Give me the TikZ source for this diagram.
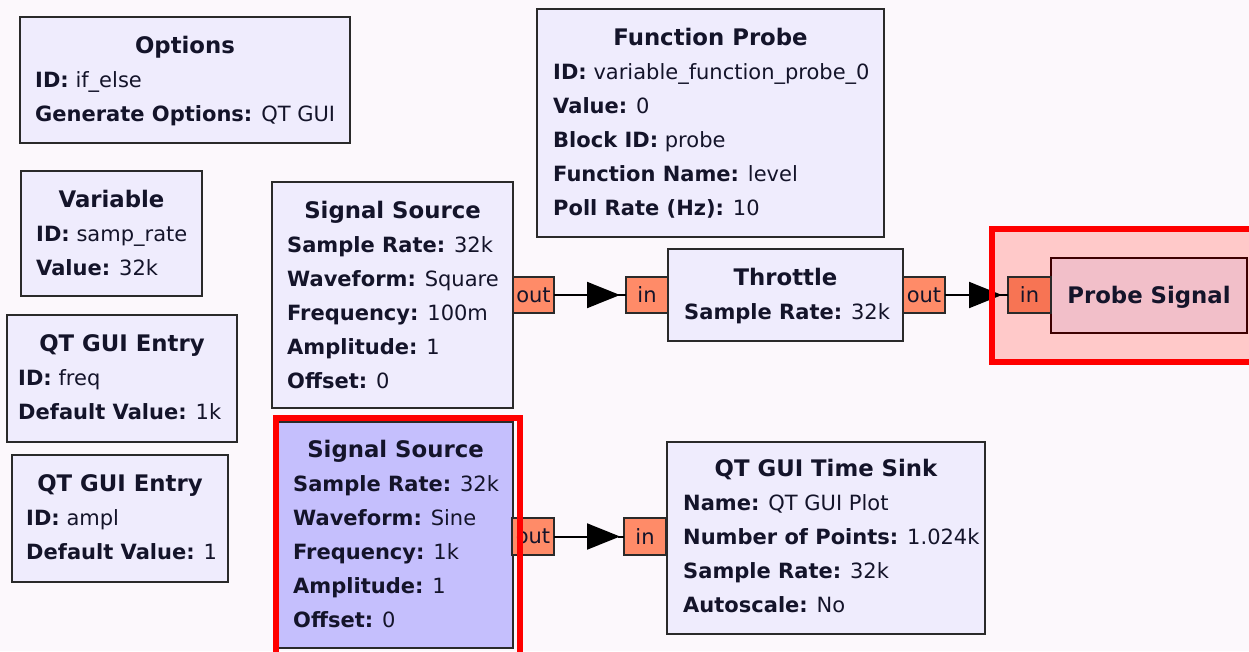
\documentclass[tikz,border=0pt]{standalone}
\usepackage{fontspec}
\setmainfont{DejaVu Sans}
\usetikzlibrary{arrows.meta}
\definecolor{bgc}{HTML}{FCF8FC}
\definecolor{blkc}{HTML}{EFECFD}
\definecolor{selc}{HTML}{C5BFFD}
\definecolor{portc}{HTML}{FF8B68}
\definecolor{portd}{HTML}{F77454}
\definecolor{probec}{HTML}{F2BFC9}
\definecolor{regc}{HTML}{FFC9C9}
\definecolor{bordc}{HTML}{2A2A2A}
\definecolor{txtc}{HTML}{14142A}
\begin{document}
\begin{tikzpicture}[x=1pt,y=-1pt,
  font=\fontsize{21}{25}\selectfont, text=txtc,
  blk/.style={draw=bordc, line width=2pt, fill=blkc, rectangle, inner sep=0pt,
    outer sep=0pt, anchor=north west},
  ttl/.style={font=\fontsize{22.8}{27}\selectfont\bfseries, anchor=base, inner sep=0pt},
  prm/.style={anchor=base west, inner sep=0pt},
  port/.style={draw=bordc, line width=1.6pt, fill=portc, inner sep=0pt, outer sep=0pt,
    minimum width=42pt, minimum height=36pt, anchor=north west},
  conn/.style={line width=2pt, draw=black},
  tip/.style={conn, -{Triangle[length=33pt,width=26pt]}},
  hl/.style={draw=red, line width=6pt}]
\useasboundingbox (0,0) rectangle (1249,651);
\fill[bgc] (0,0) rectangle (1249,651);
% highlighted area around the probe sink
\fill[regc] (989,226) rectangle (1265,365);

% Options
\node[blk, minimum width=330pt, minimum height=126pt] (opt) at (20,17) {};
\node[ttl] (optT) at (185,53) {Options};
\node[prm] (opt1) at (35,87) {\textbf{ID:} if\_else};
\node[prm] (opt2) at (35,121) {\textbf{Generate Options:} QT GUI};

% Variable
\node[blk, minimum width=181pt, minimum height=125pt] (var) at (21,171) {};
\node[ttl] (varT) at (111.5,207) {Variable};
\node[prm] (var1) at (36,241) {\textbf{ID:} samp\_rate};
\node[prm] (var2) at (36,275) {\textbf{Value:} 32k};

% QT GUI Entry (freq)
\node[blk, minimum width=230pt, minimum height=127pt] (ef) at (7,315) {};
\node[ttl] (efT) at (122,351) {QT GUI Entry};
\node[prm] (ef1) at (18,385) {\textbf{ID:} freq};
\node[prm] (ef2) at (18,419) {\textbf{Default Value:} 1k};

% QT GUI Entry (ampl)
\node[blk, minimum width=216pt, minimum height=127pt] (ea) at (12,455) {};
\node[ttl] (eaT) at (120,491) {QT GUI Entry};
\node[prm] (ea1) at (26,525) {\textbf{ID:} ampl};
\node[prm] (ea2) at (26,559) {\textbf{Default Value:} 1};

% Function Probe
\node[blk, minimum width=347pt, minimum height=228pt] (fp) at (537,9) {};
\node[ttl] (fpT) at (710.5,45) {Function Probe};
\node[prm] (fp1) at (553,79) {\textbf{ID:} variable\_function\_probe\_0};
\node[prm] (fp2) at (553,113) {\textbf{Value:} 0};
\node[prm] (fp3) at (553,147) {\textbf{Block ID:} probe};
\node[prm] (fp4) at (553,181) {\textbf{Function Name:} level};
\node[prm] (fp5) at (553,215) {\textbf{Poll Rate (Hz):} 10};

% Signal Source (square)
\node[blk, minimum width=241pt, minimum height=226pt] (ssa) at (272,182) {};
\node[ttl] (ssaT) at (392.5,218) {Signal Source};
\node[prm] (ssa1) at (287,252) {\textbf{Sample Rate:} 32k};
\node[prm] (ssa2) at (287,286) {\textbf{Waveform:} Square};
\node[prm] (ssa3) at (287,320) {\textbf{Frequency:} 100m};
\node[prm] (ssa4) at (287,354) {\textbf{Amplitude:} 1};
\node[prm] (ssa5) at (287,388) {\textbf{Offset:} 0};

% Signal Source (sine, selected)
\node[blk, fill=selc, minimum width=235pt, minimum height=226pt] (ssb) at (278,422) {};
\node[ttl] (ssbT) at (395.5,457) {Signal Source};
\node[prm] (ssb1) at (293,491) {\textbf{Sample Rate:} 32k};
\node[prm] (ssb2) at (293,525) {\textbf{Waveform:} Sine};
\node[prm] (ssb3) at (293,559) {\textbf{Frequency:} 1k};
\node[prm] (ssb4) at (293,593) {\textbf{Amplitude:} 1};
\node[prm] (ssb5) at (293,627) {\textbf{Offset:} 0};

% Throttle
\node[blk, minimum width=235pt, minimum height=92pt] (thr) at (668,249) {};
\node[ttl] (thrT) at (785.5,285) {Throttle};
\node[prm] (thr1) at (684,319) {\textbf{Sample Rate:} 32k};

% QT GUI Time Sink
\node[blk, minimum width=318pt, minimum height=192pt] (ts) at (667,442) {};
\node[ttl] (tsT) at (826,476) {QT GUI Time Sink};
\node[prm] (ts1) at (683,510) {\textbf{Name:} QT GUI Plot};
\node[prm] (ts2) at (683,544) {\textbf{Number of Points:} 1.024k};
\node[prm] (ts3) at (683,578) {\textbf{Sample Rate:} 32k};
\node[prm] (ts4) at (683,612) {\textbf{Autoscale:} No};

% Probe Signal
\node[blk, draw=black!60!red!60!black, line width=1.6pt, fill=probec,
  minimum width=196pt, minimum height=75pt] (pr) at (1051,258) {};
\node[ttl] (prT) at (1149,303) {Probe Signal};

% ports
\node[port, minimum width=41pt] (oa) at (513,277) {out};
\node[port] (ia) at (626,277) {in};
\node[port] (ob) at (903,277) {out};
\node[port, fill=portd, minimum width=43pt] (ib) at (1008,277) {in};
\node[port, minimum height=37pt] (oc) at (512,518) {out};
\node[port, minimum height=37pt] (ic) at (624,518) {in};

% connections
\draw[tip] (oa.east) -- ([xshift=-6pt]ia.west);
\draw[conn] ([xshift=-8pt]ia.west) -- (ia.west);
\draw[tip] (ob.east) -- ([xshift=-6pt]ib.west);
\draw[conn] ([xshift=-8pt]ib.west) -- (ib.west);
\draw[tip] (oc.east) -- ([xshift=-4pt]ic.west);
\draw[conn] ([xshift=-6pt]ic.west) -- (ic.west);

% selection frames
\draw[hl] (276,418) rectangle (520,665);
\draw[hl] (992,229) rectangle (1265,362);
\end{tikzpicture}
\end{document}
